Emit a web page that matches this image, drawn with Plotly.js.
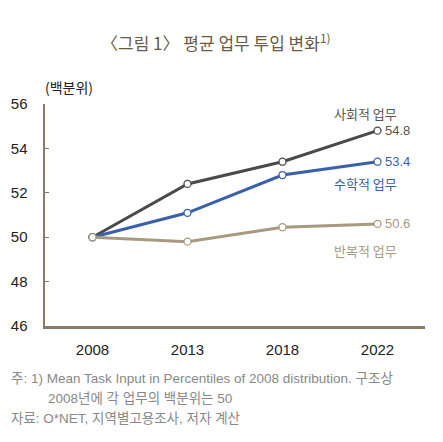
<!DOCTYPE html>
<html><head><meta charset="utf-8">
<script src="https://cdn.plot.ly/plotly-3.0.1.min.js"></script>
<style>html,body{margin:0;padding:0;background:#fff;}#chart{width:443px;height:442px;}</style>
</head><body><div id="chart"></div>
<script>
const years = ['2008', '2013', '2018', '2022'];
const social = [50, 52.4, 53.4, 54.8];
const math = [50, 51.1, 52.8, 53.4];
const routine = [50, 49.8, 50.45, 50.6];
const seriesNames = ['사회적 업무', '수학적 업무', '반복적 업무'];
const yTicks = [46, 48, 50, 52, 54, 56];

const colors = ['#4a4a4a', '#3a60aa', '#a89a80'];
const labelColors = ['#555555', '#3a60aa', '#a89a80'];
const seriesVals = [social, math, routine];
const F = 'Liberation Sans, Arial, Noto Sans CJK KR, sans-serif';
const K = 'Noto Sans CJK KR, sans-serif';

const traces = seriesVals.map((v, i) => ({
  x: years, y: v, type: 'scatter', mode: 'lines+markers', name: seriesNames[i],
  line: {color: colors[i], width: 3},
  marker: {symbol: 'circle', size: 7, color: '#ffffff', line: {color: colors[i], width: 1.3}},
  cliponaxis: false, hoverinfo: 'skip'
}));

const annotations = [];
seriesVals.forEach((v, i) => {
  annotations.push({x: years.length - 1, y: v[v.length - 1], xref: 'x', yref: 'y',
    text: v[v.length - 1].toFixed(1), showarrow: false, xanchor: 'left', yanchor: 'middle',
    xshift: 5, font: {family: F, size: 13, color: labelColors[i]}});
});
const nameShifts = [17, -22, -27];
seriesVals.forEach((v, i) => {
  annotations.push({x: years.length - 1, y: v[v.length - 1], xref: 'x', yref: 'y',
    text: seriesNames[i], showarrow: false, xanchor: 'right', yanchor: 'middle',
    xshift: 21, yshift: nameShifts[i], font: {family: K, size: 13, color: labelColors[i]}});
});
annotations.push(
  {xref: 'paper', yref: 'paper', x: 0, y: 1, xshift: -2, yshift: 5, xanchor: 'left', yanchor: 'bottom',
   text: '(백분위)', showarrow: false, font: {family: K, size: 14, color: '#222'}},
  {xref: 'paper', yref: 'paper', x: 0.45, y: 1, yshift: 62, xanchor: 'center', yanchor: 'middle',
   text: '〈그림 1〉 평균 업무 투입 변화<sup>1)</sup>', showarrow: false, font: {family: K, size: 17, color: '#6b5a45'}},
  {xref: 'paper', yref: 'paper', x: 0, y: 0, xshift: -36, yshift: -52, xanchor: 'left', yanchor: 'middle',
   text: '주: 1) Mean Task Input in Percentiles of 2008 distribution. 구조상', showarrow: false,
   font: {family: F, size: 13.5, color: '#888'}},
  {xref: 'paper', yref: 'paper', x: 0, y: 0, xshift: 1, yshift: -72, xanchor: 'left', yanchor: 'middle',
   text: '2008년에 각 업무의 백분위는 50', showarrow: false, font: {family: F, size: 13.5, color: '#888'}},
  {xref: 'paper', yref: 'paper', x: 0, y: 0, xshift: -36, yshift: -92, xanchor: 'left', yanchor: 'middle',
   text: '자료: O*NET, 지역별고용조사, 저자 계산', showarrow: false, font: {family: F, size: 13.5, color: '#888'}}
);

const layout = {
  width: 443, height: 442,
  margin: {l: 45, r: 18, t: 104, b: 116},
  paper_bgcolor: '#fff', plot_bgcolor: '#fff',
  showlegend: false,
  font: {family: F, size: 14, color: '#222'},
  xaxis: {type: 'category', range: [-0.5, 3.5], showgrid: false, zeroline: false,
    showline: true, linecolor: '#8b7b65', linewidth: 2.5, ticks: '', ticklabelstandoff: 8,
    tickfont: {family: F, size: 15, color: '#222'}, fixedrange: true},
  yaxis: {range: [46, 56], tickvals: yTicks, ticktext: yTicks.map(String), showgrid: false, zeroline: false,
    showline: true, linecolor: '#8b7b65', linewidth: 2.5, ticks: 'inside', ticklen: 4, tickwidth: 1,
    tickcolor: '#8b7b65', ticklabelstandoff: 12, tickfont: {family: F, size: 15, color: '#222'}, fixedrange: true},
  annotations: annotations
};

Plotly.newPlot('chart', traces, layout, {staticPlot: true});
</script></body></html>
